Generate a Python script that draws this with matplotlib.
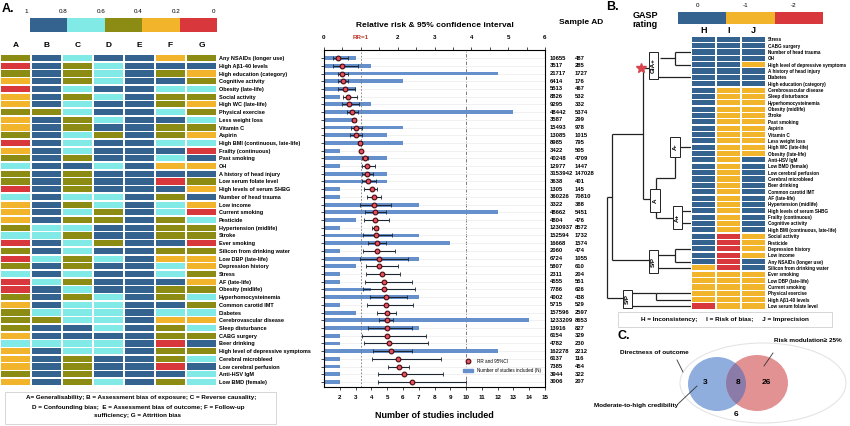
import matplotlib
matplotlib.use('Agg')
import matplotlib.pyplot as plt
from matplotlib.patches import Rectangle, Ellipse, Patch
from matplotlib.lines import Line2D
from matplotlib.transforms import blended_transform_factory
import numpy as np

plt.rcParams['font.family'] = ['Liberation Sans', 'DejaVu Sans']
plt.rcParams['font.weight'] = 'bold'

# ---------------- data : panel A ----------------
factors_a = ["Any NSAIDs (longer use)", "High A\u03b21-40 levels", "High education (category)",
             "Cognitive activity", "Obesity (late-life)", "Social activity", "High WC (late-life)",
             "Physical exercise", "Less weight loss", "Vitamin C", "Aspirin",
             "High BMI (continuous, late-life)", "Frailty (continuous)", "Past smoking", "OH",
             "A history of head injury", "Low serum folate level", "High levels of serum SHBG",
             "Number of head trauma", "Low income", "Current smoking", "Pesticide",
             "Hypertension (midlife)", "Stroke", "Ever smoking", "Silicon from drinking water",
             "Low DBP (late-life)", "Depression history", "Stress", "AF (late-life)",
             "Obesity (midlife)", "Hyperhomocysteinemia", "Common carotid IMT", "Diabetes",
             "Cerebrovascular disease", "Sleep disturbance", "CABG surgery", "Beer drinking",
             "High level of depressive symptoms", "Cerebral microbleed", "Low cerebral perfusion",
             "Anti-HSV IgM", "Low BMD (female)"]
quality_cols = ["A", "B", "C", "D", "E", "F", "G"]
# quality class per factor for columns A..G (B=0.8-1, C=0.6-0.8, O=0.4-0.6, Y=0.2-0.4, R=0-0.2)
quality_codes = ["OBCBBYO", "RBOCBBB", "OBOCBOY", "YBOCBBO", "RBCBBCC", "YBOCBOO", "YBCBBOY",
                 "OOCBBCO", "YBOCBBC", "YBOBBOO", "OBCOBOY", "RBCBBCC", "YBCBBBR", "OBOBBCB",
                 "CBBCBYY", "OBOBBBB", "OBOBBRO", "RBOBBBY", "CBCCBOB", "YBOCBCY", "YBCOBCR",
                 "YBOOBOC", "OCCBBOO", "CCOBBOO", "RBCOBBR", "OBCBBOO", "RCOCBYY", "OBOBBCY",
                 "CBCBBCO", "RCOBBBY", "RBCBBOO", "OBOCBOC", "YBCCBBO", "OCCCBCC", "OOCCBYY",
                 "OBBCBOC", "YBBBBOO", "CCCCBRB", "YBCCBOO", "YBOBBOC", "YBOBBRB", "OBOBBBC",
                 "YBOCBOC"]
scale_a_labels = ["1", "0.8", "0.6", "0.4", "0.2", "0"]
scale_a_codes = ["B", "C", "O", "Y", "R"]

rr = [0.38, 0.48, 0.49, 0.51, 0.57, 0.65, 0.67, 0.75, 0.81, 0.86, 0.87, 0.97, 1.00, 1.10, 1.18,
      1.18, 1.20, 1.29, 1.35, 1.36, 1.38, 1.38, 1.40, 1.41, 1.44, 1.44, 1.50, 1.50, 1.57, 1.62,
      1.63, 1.67, 1.67, 1.70, 1.70, 1.70, 1.71, 1.76, 1.81, 2.00, 2.03, 2.16, 2.38]
ci_low = [0.24, 0.24, 0.38, 0.37, 0.38, 0.51, 0.49, 0.62, 0.75, 0.73, 0.70, 0.93, 0.97, 1.02, 1.03,
          1.02, 1.02, 1.09, 1.17, 0.98, 1.11, 1.09, 1.29, 1.06, 1.20, 1.05, 0.98, 1.13, 1.15, 1.10,
          1.05, 1.24, 1.16, 1.43, 1.50, 1.19, 1.03, 1.08, 1.32, 1.30, 1.73, 1.46, 1.46]
ci_high = [0.65, 0.92, 0.65, 0.66, 0.84, 0.89, 0.95, 0.92, 0.88, 1.03, 1.02, 1.02, 1.03, 1.20, 1.38,
           1.34, 1.40, 1.45, 1.56, 1.83, 1.69, 1.76, 1.47, 1.85, 1.69, 1.92, 2.27, 2.01, 2.05, 2.40,
           2.46, 2.24, 2.41, 1.95, 1.88, 2.38, 2.78, 2.81, 2.38, 3.19, 2.32, 3.22, 3.86]
n_studies = [3, 4, 12, 6, 3, 2, 4, 13, 3, 6, 5, 6, 2, 5, 2, 5, 5, 2, 2, 7, 12, 3, 2, 7, 9, 2, 7,
             3, 2, 2, 4, 7, 2, 3, 14, 7, 2, 2, 12, 2, 2, 2, 2]
sample_n = [10655, 3517, 21717, 6414, 5513, 8826, 9295, 48442, 3587, 15493, 13085, 8985, 3422,
            40248, 12977, 3153942, 3638, 1305, 360226, 3322, 48662, 4804, 1230937, 152594, 16668,
            2060, 6724, 5807, 2311, 4555, 7786, 4002, 5715, 157596, 1233209, 13916, 6154, 4782,
            162278, 6137, 7385, 3944, 3006]
ad_n = [487, 285, 1727, 176, 467, 532, 332, 5374, 299, 978, 1015, 795, 505, 4709, 1447, 147028,
        401, 145, 70810, 388, 5451, 476, 8572, 1732, 1574, 474, 1055, 610, 204, 551, 626, 438, 529,
        2597, 8653, 827, 329, 230, 2212, 116, 454, 322, 207]
rr_ticks = [0, 1, 2, 3, 4, 5, 6]
rr_tick_labels = ["0", "RR=1", "2", "3", "4", "5", "6"]
n_ticks = list(range(2, 16))

# ---------------- data : panel B ----------------
factors_b = ["Stress", "CABG surgery", "Number of head trauma", "OH",
             "High level of depressive symptoms", "A history of head injury", "Diabetes",
             "High education (category)", "Cerebrovascular disease", "Sleep disturbance",
             "Hyperhomocysteinemia", "Obesity (midlife)", "Stroke", "Past smoking", "Aspirin",
             "Vitamin C", "Less weight loss", "High WC (late-life)", "Obesity (late-life)",
             "Anti-HSV IgM", "Low BMD (female)", "Low cerebral perfusion", "Cerebral microbleed",
             "Beer drinking", "Common carotid IMT", "AF (late-life)", "Hypertension (midlife)",
             "High levels of serum SHBG", "Frailty (continuous)", "Cognitive activity",
             "High BMI (continuous, late-life)", "Social activity", "Pesticide",
             "Depression history", "Low income", "Any NSAIDs (longer use)",
             "Silicon from drinking water", "Ever smoking", "Low DBP (late-life)",
             "Current smoking", "Physical exercise", "High A\u03b21-40 levels",
             "Low serum folate level"]
gasp_cols = ["H", "I", "J"]
gasp_codes = ["BBB", "BBB", "BBB", "BBB", "BBY", "BBB", "BBB", "BBB"] + ["BYY"] * 11 + \
             ["BYB"] * 12 + ["BRY"] * 4 + ["BRB", "YRB"] + ["YYY"] * 5 + ["RYY"]
gasp_scale_labels = ["0", "-1", "-2"]
gasp_scale_codes = ["B", "Y", "R"]
cluster_names = ["GIA+", "A-", "A", "A+", "S/P", "S/P"]

# ---------------- data : panel C ----------------
venn_counts = {"blue_only": 3, "both": 8, "red_only": 26, "outside": 6}

colors = {"B": "#35638F", "C": "#82EAE6", "O": "#8C8C15", "Y": "#F1B42B", "R": "#D8383B"}
bar_color = "#6690CC"

W, H = 850, 426
fig = plt.figure(figsize=(8.5, 4.26), dpi=100)


def axpx(x0, y0, x1, y1):
    return fig.add_axes([x0 / W, 1 - y1 / H, (x1 - x0) / W, (y1 - y0) / H])


def rect_fig(x0, y0, x1, y1, **kw):
    fig.add_artist(Rectangle((x0 / W, 1 - y1 / H), (x1 - x0) / W, (y1 - y0) / H,
                             transform=fig.transFigure, **kw))


nA = len(factors_a)
rows = np.arange(nA)
YLIM = (nA - 1 + 0.65, -1.05)

# ---------------- panel A heatmap ----------------
fig.text(2 / W, 1 - 12 / H, "A.", fontsize=9, fontweight='bold')
ax_cb = axpx(26, 18, 217, 32)
for k, c in enumerate(scale_a_codes):
    ax_cb.barh(0, 1, left=k, height=1, color=colors[c])
ax_cb.set_xlim(0, 5)
ax_cb.set_ylim(-0.5, 0.5)
ax_cb.set_yticks([])
ax_cb.xaxis.tick_top()
ax_cb.set_xticks(np.arange(6) - 0.1)
ax_cb.set_xticklabels(scale_a_labels, fontsize=4.5, fontweight='normal')
ax_cb.tick_params(axis='x', length=0, pad=3)
for s in ax_cb.spines.values():
    s.set_visible(False)

ax_h = axpx(0, 50, 217, 387)
for j, col in enumerate(quality_cols):
    cl = [colors[code[j]] for code in quality_codes]
    ax_h.barh(rows, 0.93, left=j + 0.035, height=0.8, color=cl)
ax_h.set_xlim(0, 7)
ax_h.set_ylim(*YLIM)
ax_h.xaxis.tick_top()
ax_h.set_xticks(np.arange(7) + 0.5)
ax_h.set_xticklabels(quality_cols, fontsize=6, fontweight='bold')
ax_h.tick_params(axis='x', length=0, pad=1)
ax_h.yaxis.tick_right()
ax_h.set_yticks(rows)
ax_h.set_yticklabels(factors_a, fontsize=4.0, fontweight='bold')
ax_h.tick_params(axis='y', length=0, pad=1.5)
for s in ax_h.spines.values():
    s.set_visible(False)

rect_fig(5, 392, 276, 424, fill=False, ec='#d0d0d0', lw=0.6)
fig.text(141 / W, 1 - 398 / H, "A= Generalisability; B = Assessment bias of exposure; C = Reverse causality;",
         fontsize=4.5, ha='center', va='center')
fig.text(138 / W, 1 - 407 / H, "D = Confounding bias;  E = Assessment bias of outcome; F = Follow-up",
         fontsize=4.5, ha='center', va='center')
fig.text(138 / W, 1 - 416 / H, "sufficiency; G = Attrition bias",
         fontsize=4.5, ha='center', va='center')

# ---------------- forest plot ----------------
ax_f = axpx(324, 50, 545, 387)
ax_f.barh(rows, n_studies, left=0, height=0.5, color=bar_color, zorder=2)
ax_f.set_xlim(1, 15)
ax_f.set_ylim(*YLIM)
ax_f.set_xticks(n_ticks)
ax_f.tick_params(axis='x', labelsize=4.5, length=2, width=0.5, pad=4)
ax_f.set_yticks(rows)
ax_f.set_yticklabels([])
ax_f.tick_params(axis='y', length=2, width=0.5, direction='out')
ax_f.grid(axis='y', color='#ececec', lw=0.5, zorder=0)
ax_f.axvline(10, color='#666666', ls=(0, (4, 2, 1, 2)), lw=0.6, zorder=1)
ax_f.set_xlabel("Number of studies included", fontsize=6.5, fontweight='bold', labelpad=8)
for s in ax_f.spines.values():
    s.set_linewidth(0.5)
    s.set_color('#555555')

ax_t = ax_f.twiny()
ax_t.set_xlim(0, 6)
ax_t.axvline(1, color='#777777', ls=(0, (2, 2)), lw=0.6, zorder=1)
rr_a = np.array(rr)
ax_t.errorbar(rr_a, rows, xerr=[rr_a - np.array(ci_low), np.array(ci_high) - rr_a], fmt='none',
              ecolor='#1d2733', elinewidth=0.8, capsize=1.2, capthick=0.6, zorder=3)
ax_t.plot(rr_a, rows, 'o', ms=3.4, mfc='#E4505C', mec='#4a0a10', mew=0.8, zorder=4)
ax_t.set_xticks(rr_ticks)
ax_t.set_xticklabels(rr_tick_labels, fontsize=4.5)
ax_t.get_xticklabels()[1].set_color('#C0392B')
ax_t.set_xticks(np.arange(0.5, 6, 1), minor=True)
ax_t.tick_params(axis='x', which='both', length=2, width=0.5, pad=5)
ax_t.set_title("Relative risk & 95% confidence interval", fontsize=6, fontweight='bold', pad=6)
ax_t.set_ylim(*YLIM)

handles = [Line2D([], [], marker='o', ls='none', ms=3.4, mfc='#E4505C', mec='#4a0a10', mew=0.8),
           Patch(color=bar_color)]
ax_f.legend(handles, ["RR and 95%CI", "Number of studies included (N)"],
            frameon=False, loc='lower right', bbox_to_anchor=(1.0, 0.03), handlelength=2.2,
            labelspacing=0.9, prop={'size': 3.3, 'weight': 'normal'})

tr = blended_transform_factory(fig.transFigure, ax_f.transData)
for i in rows:
    ax_f.text(550 / W, i, str(sample_n[i]), transform=tr, fontsize=4.2, va='center', ha='left')
    ax_f.text(575 / W, i, str(ad_n[i]), transform=tr, fontsize=4.2, va='center', ha='left')
fig.text(581 / W, 1 - 23 / H, "Sample AD", fontsize=6, ha='center', va='center')

# ---------------- panel B ----------------
fig.text(606 / W, 1 - 10 / H, "B.", fontsize=9, fontweight='bold')
fig.text(645 / W, 1 - 20 / H, "GASP\nrating", fontsize=6.5, ha='center', va='center',
         linespacing=1.1)
ax_gc = axpx(678, 12, 823, 24)
for k, c in enumerate(gasp_scale_codes):
    ax_gc.barh(0, 1, left=k, height=1, color=colors[c])
ax_gc.set_xlim(0, 3)
ax_gc.set_ylim(-0.5, 0.5)
ax_gc.set_yticks([])
ax_gc.xaxis.tick_top()
ax_gc.set_xticks(np.arange(3) + 0.4)
ax_gc.set_xticklabels(gasp_scale_labels, fontsize=4.5, fontweight='normal')
ax_gc.tick_params(axis='x', length=0, pad=3)
for s in ax_gc.spines.values():
    s.set_visible(False)

nB = len(factors_b)
rows_b = np.arange(nB)
ax_b = axpx(691, 36.1, 766, 309.2)
for j, col in enumerate(gasp_cols):
    cl = [colors[code[j]] for code in gasp_codes]
    ax_b.barh(rows_b, 0.94, left=j + 0.03, height=0.8, color=cl)
ax_b.set_xlim(0, 3)
ax_b.set_ylim(nB - 0.5, -0.5)
ax_b.xaxis.tick_top()
ax_b.set_xticks(np.arange(3) + 0.5)
ax_b.set_xticklabels(gasp_cols, fontsize=6.5)
ax_b.tick_params(axis='x', length=0, pad=1)
ax_b.yaxis.tick_right()
ax_b.set_yticks(rows_b)
ax_b.set_yticklabels(factors_b, fontsize=3.3)
ax_b.tick_params(axis='y', length=0, pad=1.5)
for s in ax_b.spines.values():
    s.set_visible(False)

# dendrogram (x = linkage height, y = row index of panel B)
ax_d = axpx(603, 36.1, 691, 309.2)
ax_d.set_xlim(88, 0)
ax_d.set_ylim(nB - 0.5, -0.5)
ax_d.axis('off')
links = [
    [(31, 3), (16, 3)], [(16, 2), (16, 4)], [(16, 2), (0, 2)], [(16, 4), (0, 4)], [(33, 6), (0, 6)],
    [(42, 4.5), (48, 4.5)], [(48, 4.5), (48, 25.2)], [(48, 14.85), (79, 14.85)],
    [(35, 21.8), (35, 28.1)], [(35, 21.8), (16, 21.8)], [(16, 21.8), (16, 18.5)],
    [(11, 17), (0, 17)], [(35, 28.1), (18, 28.1)], [(9, 27), (0, 27)], [(9, 29), (0, 29)],
    [(41, 25.2), (48, 25.2)],
    [(79, 14.85), (79, 34.8)], [(79, 24.8), (84, 24.8)],
    [(33, 34), (16, 34)], [(16, 33), (16, 35)], [(16, 33), (0, 33)], [(16, 35), (0, 35)],
    [(33, 36), (0, 36)], [(42, 34.8), (79, 34.8)],
    [(59, 40), (35, 40)], [(35, 40), (35, 41)], [(35, 40), (0, 40)], [(35, 41), (0, 41)],
    [(59, 42), (0, 42)], [(68, 40.7), (84, 40.7)], [(84, 24.8), (84, 40.7)],
]
for seg in links:
    xs, ys = zip(*seg)
    ax_d.plot(xs, ys, color='#222222', lw=0.9, solid_capstyle='butt')
boxes = [(33, 42, 2.0, 6.3), (11, 21, 15.4, 18.5), (31, 41, 23.6, 27.2), (9, 18, 26.3, 29.8),
         (33, 42, 33.2, 36.8), (59, 68, 39.5, 42.3)]
for (h0, h1, r0, r1), name in zip(boxes, cluster_names):
    ax_d.add_patch(Rectangle((h0, r0), h1 - h0, r1 - r0, fc='white', ec='#222222', lw=0.7, zorder=3))
    ax_d.text((h0 + h1) / 2, (r0 + r1) / 2, name, rotation=90, fontsize=4.5, ha='center',
              va='center', zorder=4)
ax_d.plot([50], [4.5], marker='*', color='#D9434B', ms=7, zorder=5, clip_on=False)

rect_fig(618, 312, 832, 327, fill=False, ec='#d0d0d0', lw=0.6)
fig.text(725 / W, 1 - 319.5 / H, "H = Inconsistency;     I = Risk of bias;     J = Imprecision",
         fontsize=4.6, ha='center', va='center')

# ---------------- panel C ----------------
fig.text(617 / W, 1 - 339 / H, "C.", fontsize=9, fontweight='bold')
ax_c = axpx(580, 330, 850, 426)
ax_c.set_xlim(580, 850)
ax_c.set_ylim(426, 330)
ax_c.axis('off')
ax_c.add_patch(Ellipse((763, 383), 166, 80, fill=False, ec='#e4e4e4', lw=0.8))
blue = Ellipse((717, 384), 58, 54, fc='#8FAEDD', ec='none')
red = Ellipse((757, 383), 62, 56, fc='#E39293', ec='none')
ax_c.add_patch(blue)
ax_c.add_patch(red)
ov = Ellipse((757, 383), 62, 56, fc='#8B7BA9', ec='none')
ax_c.add_patch(ov)
ov.set_clip_path(blue)
ax_c.text(705, 383, str(venn_counts["blue_only"]), fontsize=6, ha='center', va='center')
ax_c.text(738, 383, str(venn_counts["both"]), fontsize=6, ha='center', va='center')
ax_c.text(766, 383, str(venn_counts["red_only"]), fontsize=6, ha='center', va='center')
ax_c.text(736, 414, str(venn_counts["outside"]), fontsize=6, ha='center', va='center')
ax_c.text(654, 353, "Directness of outcome", fontsize=4.6, ha='center', va='center')
ax_c.plot([677, 683], [360, 372], color='#333333', lw=0.6)
ax_c.text(808, 341, "Risk modulation\u2265 25%", fontsize=4.6, ha='center', va='center')
ax_c.plot([773, 764], [353, 366], color='#333333', lw=0.6)
ax_c.text(636, 406, "Moderate-to-high credibility", fontsize=4.6, ha='center', va='center')
ax_c.plot([678, 697], [404, 386], color='#333333', lw=0.6)

fig.savefig("out.png", dpi=100)
